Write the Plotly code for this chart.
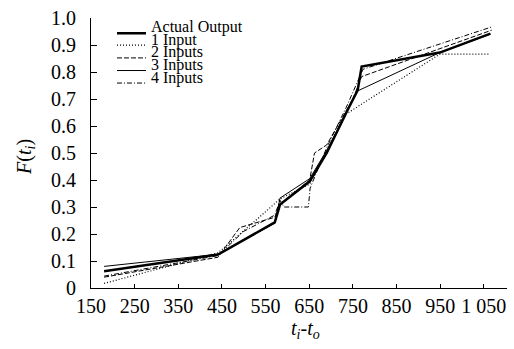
import plotly.graph_objects as go

# ---- data ----
x_actual = [180, 441, 571, 583, 651, 690, 735, 761, 770, 949, 1065]
y_actual = [0.062, 0.124, 0.243, 0.309, 0.395, 0.50, 0.65, 0.733, 0.82, 0.872, 0.942]

x_in1 = [180, 441, 520, 583, 651, 700, 735, 949, 1065]
y_in1 = [0.017, 0.13, 0.24, 0.33, 0.385, 0.54, 0.645, 0.866, 0.866]

x_in2 = [180, 441, 491, 571, 583, 651, 662, 690, 750, 770, 1068]
y_in2 = [0.040, 0.114, 0.224, 0.262, 0.31, 0.40, 0.50, 0.53, 0.70, 0.783, 0.955]

x_in3 = [180, 441, 571, 583, 651, 690, 735, 761, 949, 1065]
y_in3 = [0.080, 0.125, 0.24, 0.333, 0.405, 0.51, 0.65, 0.73, 0.872, 0.94]

x_in4 = [180, 441, 500, 571, 583, 592, 648, 652, 690, 735, 773, 1068]
y_in4 = [0.044, 0.12, 0.21, 0.27, 0.325, 0.30, 0.30, 0.37, 0.52, 0.67, 0.81, 0.967]

series_names = ["Actual Output", "1 Input", "2 Inputs", "3 Inputs", "4 Inputs"]

x_tickvals = [150, 250, 350, 450, 550, 650, 750, 850, 950, 1050]
x_ticktext = ["150", "250", "350", "450", "550", "650", "750", "850", "950", "1 050"]
y_tickvals = [0, 0.1, 0.2, 0.3, 0.4, 0.5, 0.6, 0.7, 0.8, 0.9, 1.0]
y_ticktext = ["0", "0.1", "0.2", "0.3", "0.4", "0.5", "0.6", "0.7", "0.8", "0.9", "1.0"]

# ---- styles ----
FONT = "Liberation Serif"
styles = [
    dict(width=2.5, dash="solid"),
    dict(width=1.2, dash="1px,2px"),
    dict(width=1, dash="5px,2px"),
    dict(width=1, dash="solid"),
    dict(width=1, dash="5px,2px,1px,2px"),
]

fig = go.Figure()
for name, xs, ys, st in zip(series_names,
                            [x_actual, x_in1, x_in2, x_in3, x_in4],
                            [y_actual, y_in1, y_in2, y_in3, y_in4],
                            styles):
    fig.add_trace(go.Scatter(x=xs, y=ys, mode="lines", name=name,
                             line=dict(color="black", width=st["width"], dash=st["dash"]),
                             showlegend=False))

W, H = 514, 349
L, R, T, B = 91, 7, 14, 61
pw, ph = W - L - R, H - T - B

def px_x(px):
    return (px - L) / pw

def px_y(py):
    return (H - B - py) / ph

# manual legend (compact row spacing like the reference)
line_rows = [29.5, 41.5, 54.5, 67.3, 80]
text_rows = [23.5, 36.2, 49, 61.8, 74.5]
shapes = []
annotations = []
for i, name in enumerate(series_names):
    st = styles[i]
    shapes.append(dict(type="line", xref="paper", yref="paper",
                       x0=px_x(117), x1=px_x(146), y0=px_y(line_rows[i]), y1=px_y(line_rows[i]),
                       line=dict(color="black", width=st["width"], dash=st["dash"])))
    annotations.append(dict(xref="paper", yref="paper", x=px_x(149), y=px_y(text_rows[i]),
                            xanchor="left", yanchor="middle", showarrow=False, text=name,
                            font=dict(family=FONT, size=16, color="black")))

# axis titles
annotations.append(dict(xref="paper", yref="paper", x=px_x(26), y=px_y(155),
                        xanchor="center", yanchor="middle", showarrow=False, textangle=-90,
                        text="<i>F</i>(<i>t</i><sub><i>i</i></sub>)",
                        font=dict(family=FONT, size=20, color="black")))
annotations.append(dict(xref="paper", yref="paper", x=px_x(305), y=px_y(330),
                        xanchor="center", yanchor="middle", showarrow=False,
                        text="<i>t</i><sub><i>i</i></sub>-<i>t</i><sub><i>o</i></sub>",
                        font=dict(family=FONT, size=20, color="black")))

fig.update_layout(
    width=W, height=H,
    margin=dict(l=L, r=R, t=T, b=B, pad=0),
    paper_bgcolor="white", plot_bgcolor="white",
    font=dict(family=FONT, size=20, color="black"),
    shapes=shapes, annotations=annotations,
    xaxis=dict(range=[150, 1103], tickmode="array", tickvals=x_tickvals, ticktext=x_ticktext,
               showline=True, linecolor="black", linewidth=1, ticks="inside", ticklen=4,
               tickcolor="black", showgrid=False, zeroline=False, ticklabelstandoff=0,
               tickfont=dict(family=FONT, size=20, color="black")),
    yaxis=dict(range=[0, 1.0], tickmode="array", tickvals=y_tickvals, ticktext=y_ticktext,
               showline=True, linecolor="black", linewidth=1, ticks="inside", ticklen=6,
               tickcolor="black", showgrid=False, zeroline=False, ticklabelstandoff=10,
               tickfont=dict(family=FONT, size=20, color="black")),
)

fig.write_html("out.html")
